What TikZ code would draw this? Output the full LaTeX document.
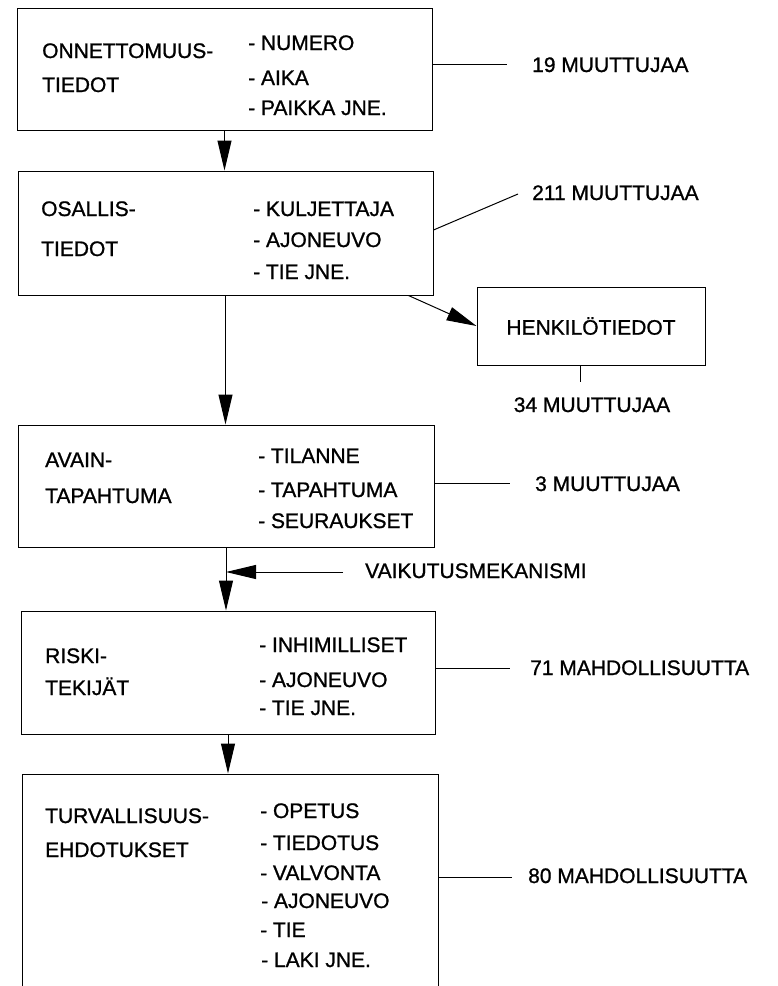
\documentclass[tikz,border=0pt]{standalone}
\usepackage{fontspec}
\setmainfont{Liberation Sans}[FakeBold=1]
\usetikzlibrary{arrows.meta}
\begin{document}
\begin{tikzpicture}[x=1pt,y=-1pt,
  font=\fontsize{21}{24}\selectfont,
  box/.style={draw,line width=1pt,rectangle,inner sep=0pt},
  txt/.style={anchor=base west,inner sep=0pt},
  conn/.style={line width=1pt},
  arr/.style={line width=1pt,-{Triangle[length=30pt,width=14pt]}}]
\useasboundingbox (0,0) rectangle (778,986);
\clip (0,0) rectangle (778,986);
% boxes
\node[box,minimum width=415pt,minimum height=122pt] (b1) at (224.5,69) {};
\node[box,minimum width=415pt,minimum height=124pt] (b2) at (225.5,233) {};
\node[box,minimum width=228pt,minimum height=78pt] (h) at (591,326) {HENKILÖTIEDOT};
\node[box,minimum width=416pt,minimum height=122pt] (b3) at (226,486) {};
\node[box,minimum width=414pt,minimum height=123pt] (b4) at (228,672.5) {};
\node[box,minimum width=416pt,minimum height=236pt] (b5) at (230,892) {};
% box 1 texts
\node[txt] (t1a) at (42,58) {ONNETTOMUUS-};
\node[txt] (t1b) at (42,92) {TIEDOT};
\node[txt] (t1c) at (248,50) {- NUMERO};
\node[txt] (t1d) at (248,85) {- AIKA};
\node[txt] (t1e) at (248,115) {- PAIKKA JNE.};
% box 2 texts
\node[txt] (t2a) at (41,216) {OSALLIS-};
\node[txt] (t2b) at (41,256) {TIEDOT};
\node[txt] (t2c) at (253,216) {- KULJETTAJA};
\node[txt] (t2d) at (253,247) {- AJONEUVO};
\node[txt] (t2e) at (253,279) {- TIE JNE.};
% box 3 texts
\node[txt] (t3a) at (45,467) {AVAIN-};
\node[txt] (t3b) at (45,503) {TAPAHTUMA};
\node[txt] (t3c) at (258,463) {- TILANNE};
\node[txt] (t3d) at (258,497) {- TAPAHTUMA};
\node[txt] (t3e) at (258,528) {- SEURAUKSET};
% box 4 texts
\node[txt] (t4a) at (45,663) {RISKI-};
\node[txt] (t4b) at (45,695) {TEKIJÄT};
\node[txt] (t4c) at (259,652) {- INHIMILLISET};
\node[txt] (t4d) at (259,687) {- AJONEUVO};
\node[txt] (t4e) at (259,715) {- TIE JNE.};
% box 5 texts
\node[txt] (t5a) at (45,823) {TURVALLISUUS-};
\node[txt] (t5b) at (45,857) {EHDOTUKSET};
\node[txt] (t5c) at (260,818) {- OPETUS};
\node[txt] (t5d) at (260,850) {- TIEDOTUS};
\node[txt] (t5e) at (260,880) {- VALVONTA};
\node[txt] (t5f) at (261,908) {- AJONEUVO};
\node[txt] (t5g) at (260,937) {- TIE};
\node[txt] (t5h) at (261,967) {- LAKI JNE.};
% side labels
\node[txt] (s1) at (532,72) {19 MUUTTUJAA};
\node[txt] (s2) at (532,200) {211 MUUTTUJAA};
\node[anchor=base,inner sep=0pt] (s34) at (592,412) {34 MUUTTUJAA};
\node[txt] (s3) at (535,491) {3 MUUTTUJAA};
\node[txt] (vk) at (365,578) {VAIKUTUSMEKANISMI};
\node[txt] (s4) at (530,675) {71 MAHDOLLISUUTTA};
\node[txt] (s5) at (528,883) {80 MAHDOLLISUUTTA};
% coordinates for free ends
\coordinate (l1) at (507,64);
\coordinate (l2) at (518,194);
\coordinate (l34) at (580,382);
\coordinate (l3) at (510,483);
\coordinate (vkt) at (343,572);
\coordinate (l4) at (510,668);
\coordinate (l5) at (512,877);
% side lines
\draw[conn] (b1.east |- l1) -- (l1);
\draw[conn] (b2.east) ++(0,-3) -- (l2);
\draw[conn] (l34 |- h.south) -- (l34);
\draw[conn] (b3.east |- l3) -- (l3);
\draw[conn] (b4.east |- l4) -- (l4);
\draw[conn] (b5.east |- l5) -- (l5);
% arrows
\draw[arr] (b1.south) -- (b1.south |- b2.north);
\draw[arr] (b2.south) -- (b2.south |- b3.north);
\draw[arr] ([xshift=-25pt]b2.south east) -- (h.west);
\draw[arr] (b3.south) -- (b3.south |- b4.north);
\draw[arr] (vkt) -- (vkt -| b3.south);
\draw[arr] (b4.south) -- (b4.south |- b5.north);
\end{tikzpicture}
\end{document}
